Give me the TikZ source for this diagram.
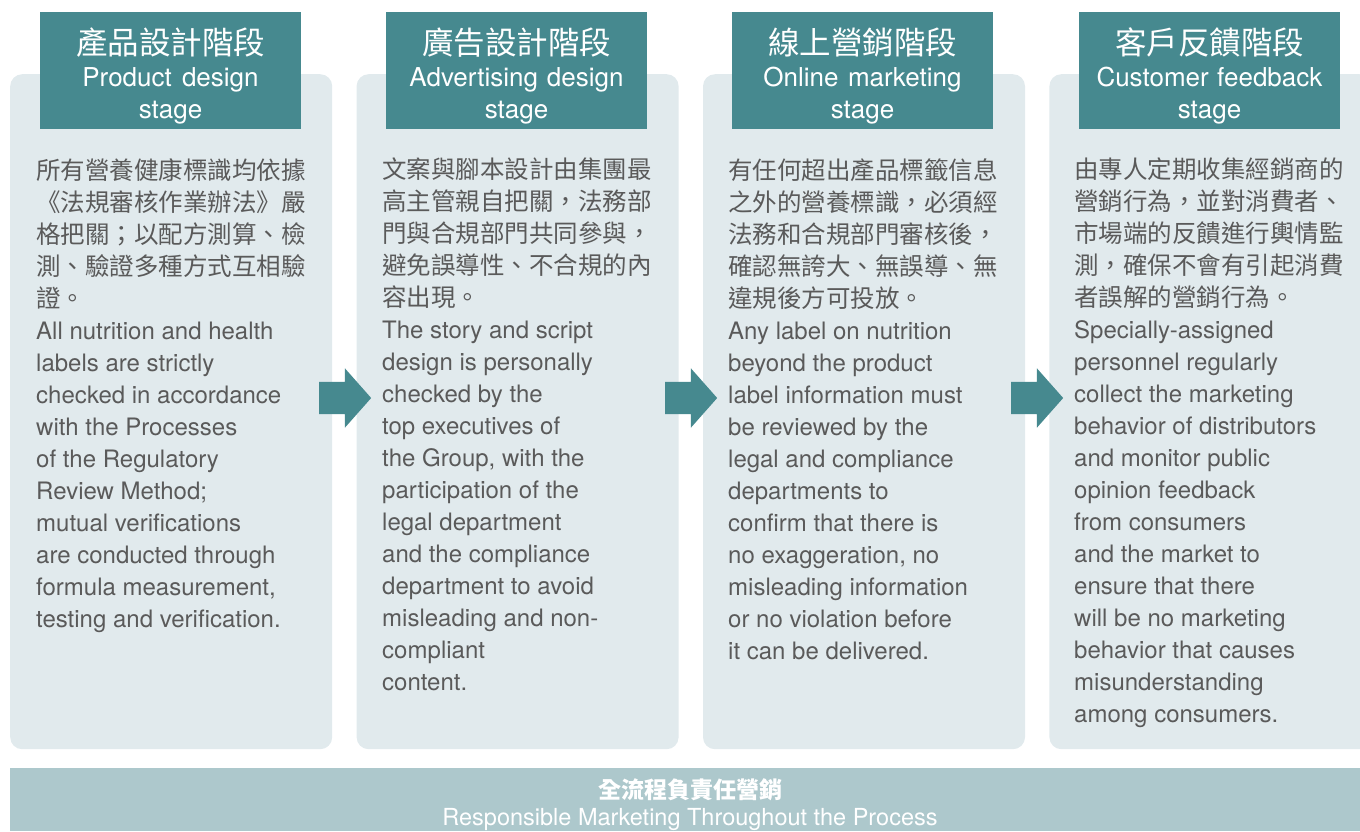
\documentclass[tikz,border=0pt]{standalone}
\usepackage{fontspec}
\setmainfont{TeX Gyre Heros}
\newfontfamily\cjk{Noto Sans CJK TC}
\usepackage{tikz}
\usetikzlibrary{shapes.arrows,positioning}

\definecolor{headteal}{RGB}{70,137,143}
\definecolor{panelbg}{RGB}{225,234,237}
\definecolor{barbg}{RGB}{173,200,204}
\definecolor{bodygray}{RGB}{90,90,90}

\newcommand\zhtxt{\cjk\fontsize{24.5}{32}\selectfont}
\newcommand\entxt{\rmfamily\fontsize{24}{32}\selectfont\spaceskip=0pt\xspaceskip=0pt }
\newcommand\zhhead{\cjk\fontsize{31.5}{32}\selectfont}
\newcommand\enhead{\rmfamily\fontsize{26}{32}\selectfont\spaceskip=0pt\xspaceskip=0pt }

\begin{document}
\begin{tikzpicture}[x=1pt, y=-1pt,
  panel/.style={fill=panelbg, rounded corners=12pt, minimum width=322pt, minimum height=675pt, inner sep=0pt},
  headbox/.style={fill=headteal, minimum width=261pt, minimum height=117pt, inner sep=0pt},
  title/.style={text=white, text width=261pt, align=center, inner sep=0pt, anchor=north,
    font=\fontsize{26}{32}\selectfont},
  body/.style={text=bodygray, text width=300pt, align=left, inner sep=0pt, anchor=north west,
    font=\fontsize{24}{32}\selectfont},
  flow/.style={single arrow, fill=headteal, inner xsep=0pt, inner ysep=16pt, minimum height=52pt,
    single arrow head extend=13.5pt, single arrow head indent=0pt, single arrow tip angle=97}
]
  \useasboundingbox (0,0) rectangle (1360,831);

  % panels
  \node[panel, anchor=north west] (panel1) at (10,74) {};
  \node[panel, right=24pt of panel1] (panel2) {};
  \node[panel, right=24pt of panel2] (panel3) {};
  \node[panel, right=24pt of panel3] (panel4) {};

  % stage headers
  \node[headbox] (head1) at (170.5,70.5) {};
  \node[headbox] (head2) at (516.5,70.5) {};
  \node[headbox] (head3) at (862.5,70.5) {};
  \node[headbox] (head4) at (1209.5,70.5) {};
  \node[title] (title1) at (170.5,28) {\zhhead 產品設計階段\\\enhead Product design\\stage\par};
  \node[title] (title2) at (516.5,28) {\zhhead 廣告設計階段\\\enhead Advertising design\\stage\par};
  \node[title] (title3) at (862.5,28) {\zhhead 線上營銷階段\\\enhead Online marketing\\stage\par};
  \node[title] (title4) at (1209.5,28) {\zhhead 客戶反饋階段\\\enhead Customer feedback\\stage\par};

  % texts
  \node[body] (text1) at (36,158) {\zhtxt
    所有營養健康標識均依據\\《法規審核作業辦法》嚴\\格把關；以配方測算、檢\\測、驗證多種方式互相驗\\證。\\
    \entxt All nutrition and health\\labels are strictly\\checked in accordance\\with the Processes\\of the Regulatory\\Review Method;\\mutual verifications\\are conducted through\\formula measurement,\\testing and verification.\par};
  \node[body] (text2) at (382,158) {\zhtxt
    文案與腳本設計由集團最\\高主管親自把關，法務部\\門與合規部門共同參與，\\避免誤導性、不合規的內\\容出現。\\
    \entxt The story and script\\design is personally\\checked by the\\top executives of\\the Group, with the\\participation of the\\legal department\\and the compliance\\department to avoid\\misleading and non-\\compliant\\content.\par};
  \node[body] (text3) at (728,158) {\zhtxt
    有任何超出產品標籤信息\\之外的營養標識，必須經\\法務和合規部門審核後，\\確認無誇大、無誤導、無\\違規後方可投放。\\
    \entxt Any label on nutrition\\beyond the product\\label information must\\be reviewed by the\\legal and compliance\\departments to\\confirm that there is\\no exaggeration, no\\misleading information\\or no violation before\\it can be delivered.\par};
  \node[body] (text4) at (1074,158) {\zhtxt
    由專人定期收集經銷商的\\營銷行為，並對消費者、\\市場端的反饋進行輿情監\\測，確保不會有引起消費\\者誤解的營銷行為。\\
    \entxt Specially-assigned\\personnel regularly\\collect the marketing\\behavior of distributors\\and monitor public\\opinion feedback\\from consumers\\and the market to\\ensure that there\\will be no marketing\\behavior that causes\\misunderstanding\\among consumers.\par};

  % arrows between stages
  \node[flow] (flow1) at (338,398) {};
  \node[flow] (flow2) at (684,398) {};
  \node[flow] (flow3) at (1030,398) {};

  % bottom bar
  \node[fill=barbg, minimum width=1362pt, minimum height=63pt, inner sep=0pt, anchor=north west] (bar) at (10,768) {};
  \node[text=white, align=center, inner sep=0pt, anchor=north, font=\fontsize{23.5}{27}\selectfont] (bartext) at (690,778)
    {{\cjk\bfseries\fontsize{23}{27}\selectfont 全流程負責任營銷}\\{\fontsize{23.5}{27}\selectfont Responsible Marketing Throughout the Process}};
\end{tikzpicture}
\end{document}
